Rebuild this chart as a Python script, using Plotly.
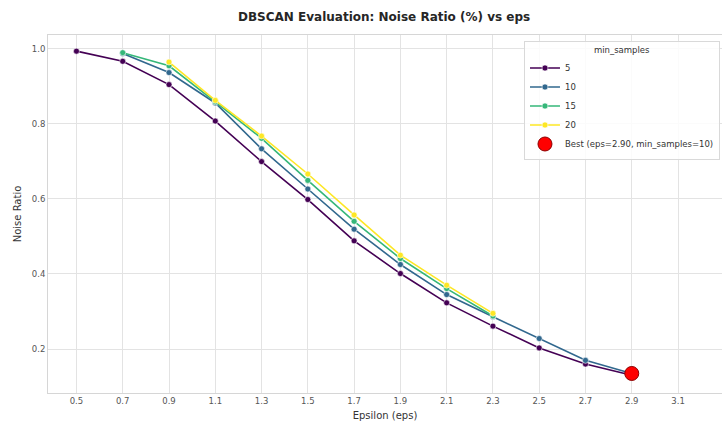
import plotly.graph_objects as go

eps_5 = [0.5, 0.7, 0.9, 1.1, 1.3, 1.5, 1.7, 1.9, 2.1, 2.3, 2.5, 2.7, 2.9]
noise_5 = [0.993, 0.966, 0.904, 0.807, 0.699, 0.598, 0.488, 0.401, 0.323, 0.261, 0.203, 0.160, 0.130]
eps_10 = [0.7, 0.9, 1.1, 1.3, 1.5, 1.7, 1.9, 2.1, 2.3, 2.5, 2.7, 2.9]
noise_10 = [0.987, 0.936, 0.855, 0.733, 0.626, 0.519, 0.425, 0.345, 0.286, 0.228, 0.170, 0.135]
eps_15 = [0.7, 0.9, 1.1, 1.3, 1.5, 1.7, 1.9, 2.1, 2.3]
noise_15 = [0.989, 0.954, 0.858, 0.761, 0.649, 0.540, 0.441, 0.361, 0.288]
eps_20 = [0.9, 1.1, 1.3, 1.5, 1.7, 1.9, 2.1, 2.3]
noise_20 = [0.964, 0.862, 0.767, 0.666, 0.557, 0.450, 0.370, 0.295]
best_eps = [2.9]
best_noise = [0.135]

series = [
    ("5", eps_5, noise_5, "#440154"),
    ("10", eps_10, noise_10, "#31688e"),
    ("15", eps_15, noise_15, "#35b779"),
    ("20", eps_20, noise_20, "#fde725"),
]

x_ticks = [0.5, 0.7, 0.9, 1.1, 1.3, 1.5, 1.7, 1.9, 2.1, 2.3, 2.5, 2.7, 2.9, 3.1, 3.3]
y_ticks = [0.2, 0.4, 0.6, 0.8, 1.0]

fig = go.Figure()
for name, xs, ys, col in series:
    fig.add_trace(go.Scatter(
        x=xs, y=ys, name=name, mode="lines+markers",
        line=dict(color=col, width=1.6),
        marker=dict(color=col, size=6, line=dict(color="white", width=0.6)),
    ))
fig.add_trace(go.Scatter(
    x=best_eps, y=best_noise, name="Best (eps=2.90, min_samples=10)", mode="markers",
    marker=dict(color="#ff0000", size=14, line=dict(color="#8b0000", width=1)),
))

font = "DejaVu Sans"
fig.update_layout(
    width=722, height=421,
    margin=dict(l=48, r=0, t=35, b=28, autoexpand=False),
    paper_bgcolor="white", plot_bgcolor="white",
    font=dict(family=font, size=10, color="#333333"),
    title=dict(text="<b>DBSCAN Evaluation: Noise Ratio (%) vs eps</b>",
               x=0.532, xanchor="center", y=0.96, yanchor="middle",
               font=dict(size=12, color="#262626", family=font)),
    legend=dict(
        x=0.997, y=0.982, xanchor="right", yanchor="top",
        bgcolor="rgba(255,255,255,0.85)", bordercolor="#d9d9d9", borderwidth=1,
        font=dict(size=8.5, color="#333333"),
        title=dict(text="min_samples", side="top center", font=dict(size=8.5)),
        tracegroupgap=0, itemwidth=30,
    ),
    xaxis=dict(
        range=[0.377, 3.29], tickvals=x_ticks, ticktext=[f"{v:.1f}" for v in x_ticks],
        showgrid=True, gridcolor="#e3e3e3", gridwidth=1,
        showline=True, linecolor="#d6d6d6", mirror=True, zeroline=False,
        ticks="", tickfont=dict(size=8.5, color="#555555"),
        title=dict(text="Epsilon (eps)", font=dict(size=10, color="#333333"), standoff=6),
    ),
    yaxis=dict(
        range=[0.083, 1.036], tickvals=y_ticks, ticktext=[f"{v:.1f}" for v in y_ticks],
        showgrid=True, gridcolor="#e3e3e3", gridwidth=1,
        showline=True, linecolor="#d6d6d6", mirror=True, zeroline=False,
        ticks="", tickfont=dict(size=8.5, color="#555555"),
        title=dict(text="Noise Ratio", font=dict(size=10, color="#333333"), standoff=8),
    ),
)

fig.write_html("out.html")
